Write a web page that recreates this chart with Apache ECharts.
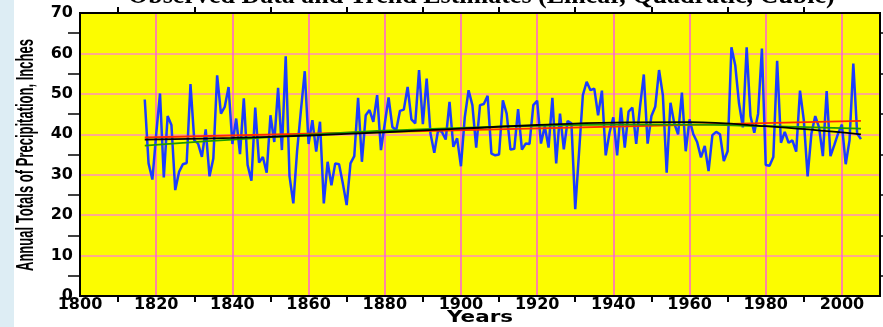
<!DOCTYPE html>
<html><head><meta charset="utf-8">
<script src="https://cdn.jsdelivr.net/npm/echarts@6/dist/echarts.min.js"></script>
<style>html,body{margin:0;padding:0;background:#fff;}#band{position:absolute;left:0;top:0;width:14px;height:327px;background:#ddedf4;}#c{position:absolute;left:0;top:0;width:883px;height:327px;}</style>
</head><body><div id="band"></div><div id="c"></div>
<script>
const titleText = 'Observed Data and Trend Estimates (Linear, Quadratic, Cubic)';
const xTitle = 'Years';
const yTitle = 'Annual Totals of Precipitation, Inches';
const years = [
1817,1818,1819,1820,1821,1822,1823,1824,1825,1826,1827,1828,1829,
1830,1831,1832,1833,1834,1835,1836,1837,1838,1839,
1840,1841,1842,1843,1844,1845,1846,1847,1848,1849,
1850,1851,1852,1853,1854,1855,1856,1857,1858,1859,
1860,1861,1862,1863,1864,1865,1866,1867,1868,1869,
1870,1871,1872,1873,1874,1875,1876,1877,1878,1879,
1880,1881,1882,1883,1884,1885,1886,1887,1888,1889,
1890,1891,1892,1893,1894,1895,1896,1897,1898,1899,
1900,1901,1902,1903,1904,1905,1906,1907,1908,1909,
1910,1911,1912,1913,1914,1915,1916,1917,1918,1919,
1920,1921,1922,1923,1924,1925,1926,1927,1928,1929,
1930,1931,1932,1933,1934,1935,1936,1937,1938,1939,
1940,1941,1942,1943,1944,1945,1946,1947,1948,1949,
1950,1951,1952,1953,1954,1955,1956,1957,1958,1959,
1960,1961,1962,1963,1964,1965,1966,1967,1968,1969,
1970,1971,1972,1973,1974,1975,1976,1977,1978,1979,
1980,1981,1982,1983,1984,1985,1986,1987,1988,1989,
1990,1991,1992,1993,1994,1995,1996,1997,1998,1999,
2000,2001,2002,2003,2004,2005];
const precip = [
48.6,32.8,28.8,40.0,50.1,29.3,44.5,42.3,26.2,30.7,32.6,32.9,52.4,
38.5,37.7,34.4,41.2,29.6,34.0,54.6,45.1,46.8,51.7,
37.6,43.9,35.1,48.9,32.4,28.5,46.6,33.0,34.4,30.5,
44.7,38.1,51.5,36.1,59.3,29.6,22.9,36.0,46.0,55.6,
37.6,43.5,35.7,43.1,22.9,33.2,27.4,32.8,32.6,27.8,
22.5,32.8,34.6,49.0,33.2,44.7,46.0,43.1,49.7,36.1,
42.6,49.1,41.8,41.0,45.8,46.1,51.7,43.7,42.7,55.9,
42.5,53.8,40.2,35.4,41.0,40.6,38.7,48.0,36.9,39.0,
32.1,44.2,50.9,47.2,36.7,47.2,47.5,49.5,35.2,34.8,
35.0,48.4,45.1,36.2,36.4,46.2,36.2,37.7,37.6,47.2,
48.3,37.7,42.0,36.7,49.0,32.8,45.1,36.3,43.3,42.7,
21.5,35.5,49.7,53.0,50.9,51.3,44.7,50.8,34.8,40.4,
44.2,34.8,46.6,36.7,45.6,46.6,37.6,46.8,54.8,37.7,
44.5,46.8,55.9,49.7,30.5,47.8,42.7,40.0,50.3,35.8,
43.7,40.0,38.1,34.3,37.1,30.9,39.8,40.6,40.0,33.4,
35.8,61.5,57.1,47.6,41.7,61.5,44.5,40.4,45.1,61.2,
32.4,32.2,34.4,58.2,37.9,40.6,37.9,38.5,35.7,50.8,
43.5,29.6,40.2,44.5,41.7,34.6,50.7,34.6,37.3,40.2,
42.4,32.6,38.5,57.5,40.2,38.8];
const linYears = [1817, 2005];
const linVals = [39.2, 43.3];
const trendYears = [1817,1840,1860,1880,1900,1920,1940,1960,1980,2005];
const quadVals = [37.2,38.7,39.9,40.9,41.6,42.1,42.4,42.4,42.0,41.4];
const cubicVals = [38.7,39.1,39.7,40.5,41.4,42.3,42.9,43.0,42.0,40.0];
const xTicks = [1800,1820,1840,1860,1880,1900,1920,1940,1960,1980,2000];
const yTicks = [0,10,20,30,40,50,60,70];

const pair = (xs, ys) => xs.map((x, i) => [x, ys[i]]);
const measure = (txt, font) => { const c = document.createElement('canvas').getContext('2d'); c.font = font; return c.measureText(txt).width; };
const yTitleFont = 'bold 23px "Liberation Sans"';
const yTitleScale = 232 / measure(yTitle, yTitleFont);
const xTitleFont = 'bold 16px "DejaVu Sans"';
const xTitleScale = 66 / measure(xTitle, xTitleFont);

const labelFont = {fontFamily:'DejaVu Sans', fontWeight:'bold', fontSize:16, color:'#000'};
const chart = echarts.init(document.getElementById('c'), null, {renderer:'canvas'});
const xBase = {
  type:'value', min:1800, max:2010, interval:20,
  axisLine:{show:true, onZero:false, lineStyle:{color:'#000', width:2}},
  axisTick:{show:false},
  minorTick:{show:true, splitNumber:2, length:6, lineStyle:{color:'#000', width:2}},
};
const yBase = {
  type:'value', min:0, max:70, interval:10,
  axisLine:{show:true, onZero:false, lineStyle:{color:'#000', width:2}},
  axisTick:{show:false},
  minorTick:{show:true, splitNumber:2, length:12, lineStyle:{color:'#000', width:1.5}},
};
chart.setOption({
  animation:false,
  backgroundColor:'transparent',
  title:{text:titleText, left:123, top:-22, itemGap:0,
    textStyle:{fontFamily:'Liberation Serif', fontWeight:'bold', fontSize:26, color:'#000'}},
  grid:{left:80, right:3, top:13, bottom:31, show:true, backgroundColor:'#fcfc00', borderColor:'#000', borderWidth:2},
  xAxis:[
    Object.assign({}, xBase, {position:'bottom',
      axisLabel:Object.assign({margin:1, formatter: v => xTicks.includes(v) ? String(v) : ''}, labelFont),
      splitLine:{show:true, lineStyle:{color:'#ff5ed8', width:1.5}}}),
    Object.assign({}, xBase, {position:'top', axisLabel:{show:false}, splitLine:{show:false}})
  ],
  yAxis:[
    Object.assign({}, yBase, {position:'left',
      axisLabel:Object.assign({margin:7, formatter: v => yTicks.includes(v) ? String(v) : ''}, labelFont),
      splitLine:{show:true, lineStyle:{color:'#ff8fb8', width:1.5}}}),
    Object.assign({}, yBase, {position:'right', axisLabel:{show:false}, splitLine:{show:false}})
  ],
  graphic:[
    {type:'text', x:27, y:155, rotation:Math.PI/2, scaleX:yTitleScale, scaleY:1,
      style:{text:yTitle, font:yTitleFont, fill:'#000', align:'center', verticalAlign:'middle'}},
    {type:'text', x:480, y:318, scaleX:xTitleScale, scaleY:1,
      style:{text:xTitle, font:xTitleFont, fill:'#000', align:'center', verticalAlign:'middle'}}
  ],
  series:[
    {type:'line', name:'Observed', data:pair(years, precip), showSymbol:false, symbol:'none',
      lineStyle:{color:'#1c3cff', width:2.5}, z:2},
    {type:'line', name:'Linear', data:pair(linYears, linVals), symbol:'none',
      lineStyle:{color:'#ff2a00', width:1.8}, z:3},
    {type:'line', name:'Quadratic', data:pair(trendYears, quadVals), symbol:'none', smooth:0.4,
      lineStyle:{color:'#1e9a00', width:1.8}, z:4},
    {type:'line', name:'Cubic', data:pair(trendYears, cubicVals), symbol:'none', smooth:0.4,
      lineStyle:{color:'#000', width:1.8}, z:5}
  ]
});
</script></body></html>
